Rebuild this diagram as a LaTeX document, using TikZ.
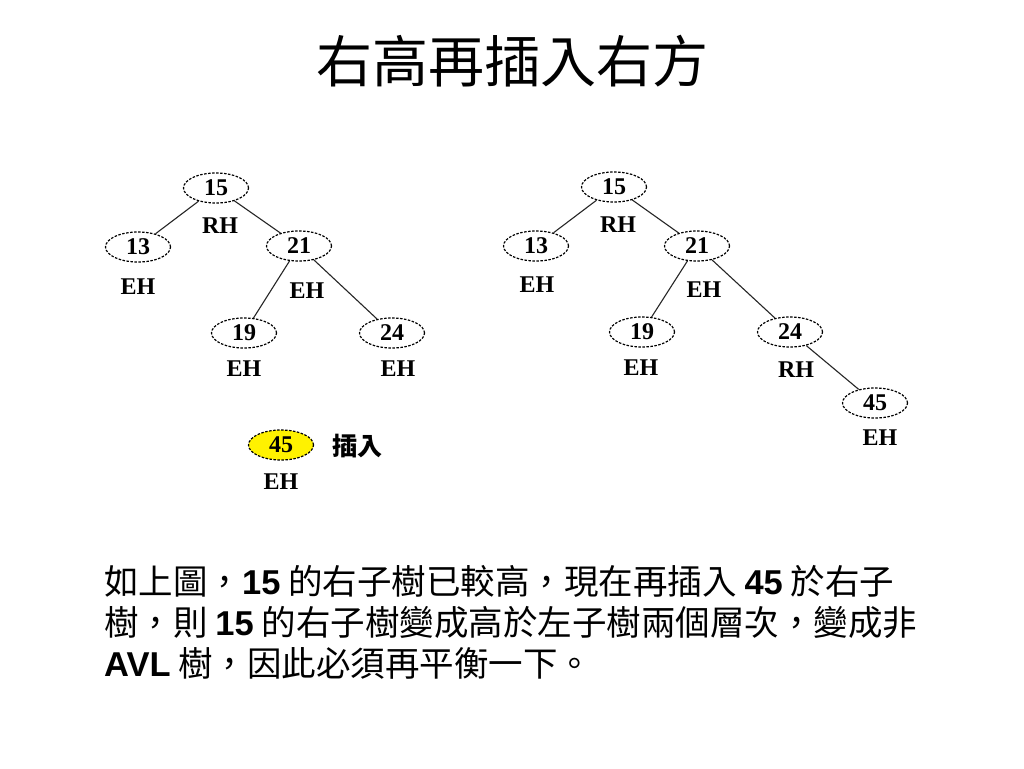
\documentclass[tikz,border=0pt]{standalone}
\usepackage{fontspec}
\usetikzlibrary{shapes.geometric}
\newfontfamily\cjk{Noto Sans CJK TC}
\newfontfamily\tserif{Liberation Serif}
\newfontfamily\arial{Liberation Sans}
\newcommand{\bnum}[1]{{\arial\bfseries #1}}
\tikzset{
  tnode/.style={ellipse, draw=black, line width=1.2pt, dash pattern=on 2.5pt off 1.5pt,
    minimum width=65pt, minimum height=30pt, inner sep=0pt,
    font=\tserif\bfseries\fontsize{24}{24}\selectfont},
  bal/.style={font=\tserif\bfseries\fontsize{24}{24}\selectfont, inner sep=0pt},
  edge/.style={draw=black!85, line width=1.1pt},
  body/.style={anchor=base west, inner sep=0pt, font=\cjk\fontsize{34.5}{40}\selectfont}
}
\begin{document}
\begin{tikzpicture}[x=1pt,y=-1pt]
\useasboundingbox[fill=white] (0,0) rectangle (1024,768);
% title
\node[inner sep=0pt, anchor=base, font=\cjk\fontsize{56}{60}\selectfont] (title) at (512,82) {右高再插入右方};
% left tree
\node[tnode] (L15) at (216,188) {15};
\node[tnode] (L13) at (138,247) {13};
\node[tnode] (L21) at (299,246) {21};
\node[tnode] (L19) at (244,333) {19};
\node[tnode] (L24) at (392,333) {24};
\node[tnode, fill=yellow] (L45) at (281,445) {45};
\draw[edge] (L15) -- (L13);
\draw[edge] (L15) -- (L21);
\draw[edge] (L21) -- (L19);
\draw[edge] (L21) -- (L24);
\node[bal] (lb15) at (220,226) {RH};
\node[bal] (lb13) at (138,287) {EH};
\node[bal] (lb21) at (307,291) {EH};
\node[bal] (lb19) at (244,369) {EH};
\node[bal] (lb24) at (398,369) {EH};
\node[bal] (lb45) at (281,482) {EH};
\node[inner sep=0pt, font=\cjk\bfseries\fontsize{25}{25}\selectfont] (ins) at (357,446) {插入};
% right tree
\node[tnode] (R15) at (614,187) {15};
\node[tnode] (R13) at (536,246) {13};
\node[tnode] (R21) at (697,246) {21};
\node[tnode] (R19) at (642,332) {19};
\node[tnode] (R24) at (790,332) {24};
\node[tnode] (R45) at (875,403) {45};
\draw[edge] (R15) -- (R13);
\draw[edge] (R15) -- (R21);
\draw[edge] (R21) -- (R19);
\draw[edge] (R21) -- (R24);
\draw[edge] (R24) -- (R45);
\node[bal] (rb15) at (618,225) {RH};
\node[bal] (rb13) at (537,285) {EH};
\node[bal] (rb21) at (704,290) {EH};
\node[bal] (rb19) at (641,368) {EH};
\node[bal] (rb24) at (796,370) {RH};
\node[bal] (rb45) at (880,438) {EH};
% body text
\node[body] (t1) at (104,594) {如上圖，\bnum{15} 的右子樹已較高，現在再插入 \bnum{45} 於右子};
\node[body] (t2) at (104,635) {樹，則 \bnum{15} 的右子樹變成高於左子樹兩個層次，變成非};
\node[body] (t3) at (104,676) {\bnum{AVL} 樹，因此必須再平衡一下。};
\end{tikzpicture}
\end{document}
